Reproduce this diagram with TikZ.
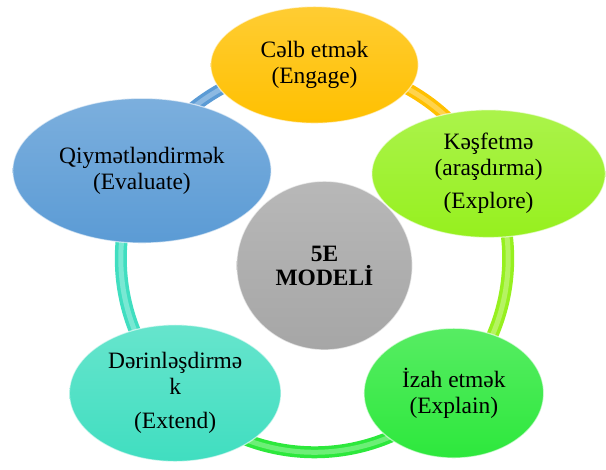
\documentclass[tikz,border=0pt]{standalone}
\usepackage{fontspec}
\setmainfont{Liberation Serif}
\usetikzlibrary{shapes.geometric,backgrounds}

\definecolor{engagecol}{RGB}{255,192,0}
\definecolor{explorecol}{RGB}{150,240,30}
\definecolor{explaincol}{RGB}{45,232,60}
\definecolor{extendcol}{RGB}{64,222,192}
\definecolor{evalcol}{RGB}{91,155,213}
\definecolor{hubcol}{RGB}{166,166,166}

\tikzset{
  phase/.style={ellipse, inner sep=0pt, align=center,
    top color=#1!80!white, bottom color=#1,
    draw=white, draw opacity=.6, line width=1.2pt,
    font=\fontsize{23.5}{26}\selectfont},
  ring/.style={line width=12pt, draw=#1,
    postaction={draw=#1!70!white, line width=5pt}},
}

\begin{document}
\begin{tikzpicture}[x=1pt,y=1pt]
   \coordinate (c) at (315,204) ; % centre of the cycle

   \node[phase=engagecol, minimum width=208pt, minimum height=117pt]
      (engage)  at ([shift={(90:194)}]c)   {Cəlb etmək\\(Engage)} ; %
   \node[phase=explorecol, minimum width=234pt, minimum height=128pt]
      (explore) at ([shift={(26:194)}]c)   {Kəşfetmə\\(araşdırma)\\[7pt](Explore)} ; %
   \node[phase=explaincol, minimum width=180pt, minimum height=130pt]
      (explain) at ([shift={(-44:194)}]c)  {İzah etmək\\(Explain)} ; %
   \node[phase=extendcol, minimum width=212pt, minimum height=137pt]
      (extend)  at ([shift={(-136:194)}]c) {Dərinləşdirmə\\k\\[8pt](Extend)} ; %
   \node[phase=evalcol, minimum width=259pt, minimum height=145pt]
      (evaluate) at ([shift={(153:194)}]c) {Qiymətləndirmək\\(Evaluate)} ; %

   \node[phase=hubcol, minimum width=176pt, minimum height=169pt,
      font=\fontsize{23.5}{24}\selectfont\bfseries]
      (hub) at (325,197) {5E\\MODELİ} ; %

   \begin{scope}[on background layer]
      \fill[white] (0,0) rectangle (606,463) ;
      \draw[ring=engagecol]  (engage.center)   arc[start angle=90,   end angle=26,   radius=194pt] ;
      \draw[ring=explorecol] (explore.center)  arc[start angle=26,   end angle=-44,  radius=194pt] ;
      \draw[ring=explaincol] (explain.center)  arc[start angle=-44,  end angle=-136, radius=194pt] ;
      \draw[ring=extendcol]  (extend.center)   arc[start angle=-136, end angle=-207, radius=194pt] ;
      \draw[ring=evalcol]    (evaluate.center) arc[start angle=153,  end angle=90,   radius=194pt] ;
   \end{scope}

\end{tikzpicture}
\end{document}
